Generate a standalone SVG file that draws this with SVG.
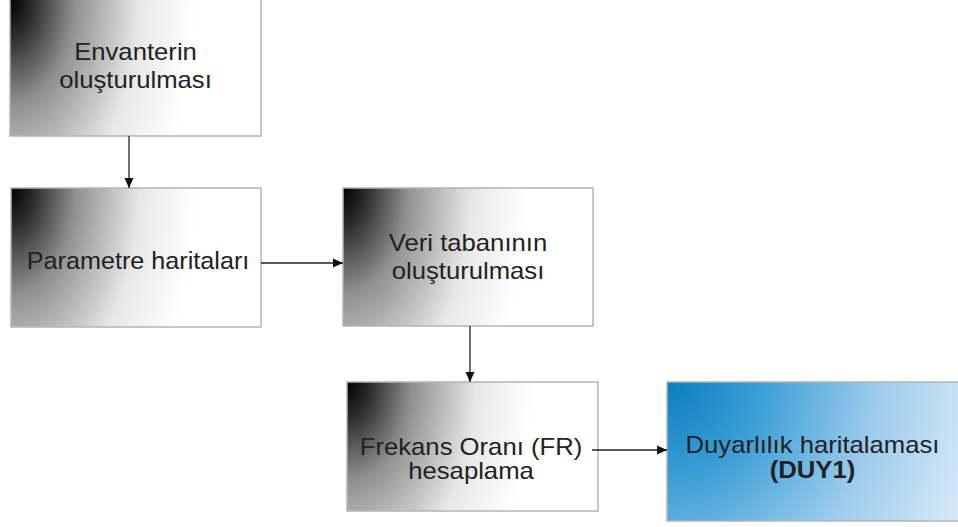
<svg xmlns="http://www.w3.org/2000/svg" width="958" height="527" viewBox="0 0 958 527">
<defs>
<radialGradient id="gray" cx="0" cy="0" r="1" fx="0" fy="0" gradientTransform="scale(0.74,2.2)">
<stop offset="0" stop-color="#000"/>
<stop offset="0.12" stop-color="#2a2a2a"/>
<stop offset="0.35" stop-color="#909090"/>
<stop offset="0.7" stop-color="#e8e8e8"/>
<stop offset="1" stop-color="#fff"/>
</radialGradient>
<radialGradient id="blue" cx="0" cy="0" r="1" fx="0" fy="0" gradientTransform="scale(1.1,2.4)">
<stop offset="0" stop-color="#0a7fbf"/>
<stop offset="0.3" stop-color="#3d9fd6"/>
<stop offset="0.65" stop-color="#9ccbec"/>
<stop offset="1" stop-color="#d8eaf8"/>
</radialGradient>
<marker id="arr" viewBox="0 0 10 10" refX="10" refY="5" markerWidth="10" markerHeight="10" markerUnits="userSpaceOnUse" orient="auto">
<path d="M0,0.5 L10,5 L0,9.5 z" fill="#111"/>
</marker>
<style>
.box{fill:url(#gray);stroke:#b4b4b4;stroke-width:1.5}
.bbox{fill:url(#blue);stroke:#b4b4b4;stroke-width:1.5}
.t{font-family:"Liberation Sans",Arial,sans-serif;font-size:24px;fill:#222;text-anchor:middle}
.b{font-weight:bold}
.c{stroke:#222;stroke-width:1.3;fill:none;marker-end:url(#arr)}
</style>
</defs>
<rect width="958" height="527" fill="#fff"/>
<g id="n1">
<rect class="box" x="10" y="-2" width="251" height="138"/>
<text class="t" transform="translate(135.5,60) scale(1.07,1)">Envanterin</text>
<text class="t" transform="translate(135.5,88) scale(1.07,1)">oluşturulması</text>
</g>
<g id="n2">
<rect class="box" x="11" y="188" width="250" height="139"/>
<text class="t" transform="translate(138,269) scale(1.05,1)">Parametre haritaları</text>
</g>
<g id="n3">
<rect class="box" x="343" y="188" width="250" height="138"/>
<text class="t" transform="translate(468,251) scale(1.07,1)">Veri tabanının</text>
<text class="t" transform="translate(468,279) scale(1.07,1)">oluşturulması</text>
</g>
<g id="n4">
<rect class="box" x="347" y="382" width="251" height="129"/>
<text class="t" transform="translate(471,455) scale(1.07,1)">Frekans Oranı (FR)</text>
<text class="t" transform="translate(471,479) scale(1.07,1)">hesaplama</text>
</g>
<g id="n5">
<rect class="bbox" x="667" y="382" width="292" height="139"/>
<text class="t" transform="translate(812.5,453) scale(1.07,1)">Duyarlılık haritalaması</text>
<text class="t b" transform="translate(812.5,478) scale(1.07,1)">(DUY1)</text>
</g>
<g id="connectors">
<path class="c" d="M129,136 L129,188"/>
<path class="c" d="M261,263 L343,263"/>
<path class="c" d="M470,326 L470,382"/>
<path class="c" d="M592,450 L667,450"/>
</g>
</svg>
